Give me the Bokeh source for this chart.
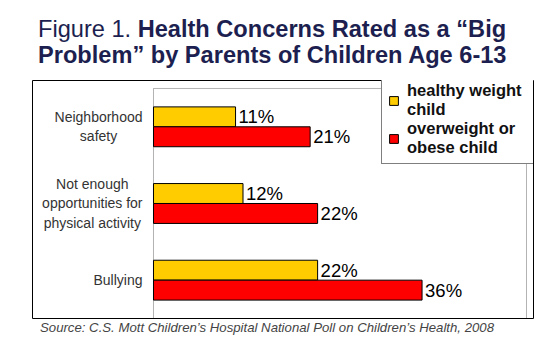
from bokeh.plotting import figure
from bokeh.layouts import column
from bokeh.models import (Range1d, ColumnDataSource, BoxAnnotation, Legend,
                          LegendItem, Div)
from bokeh.core.properties import value
from bokeh.embed import file_html
from bokeh.resources import INLINE

# ---- data ----
categories = ["Neighborhood\nsafety",
              "Not enough\nopportunities for\nphysical activity",
              "Bullying"]
healthy_weight = [11, 12, 22]
overweight_obese = [21, 22, 36]
series_names = ["healthy weight\nchild", "overweight or\nobese child"]
title_prefix = "Figure 1."
title_line1 = "Health Concerns Rated as a \u201cBig"
title_line2 = "Problem\u201d by Parents of Children Age 6-13"
source_text = ("Source: C.S. Mott Children\u2019s Hospital National Poll on "
               "Children\u2019s Health, 2008")

# ---- styles ----
YELLOW = "#FFCC00"
RED = "#FF0000"
NAVY = "#1c1f4f"
FONT = "Liberation Sans"
CAT_FONT_PX = 14
BAR_H = 0.26

# Arial / Liberation Sans advance widths (per 1000 em) for label layout
_W = {'N': 722, 'e': 556, 'i': 222, 'g': 556, 'h': 556, 'b': 556, 'o': 556,
      'r': 333, 'd': 556, 's': 500, 'a': 556, 'f': 278, 't': 278, 'y': 500,
      ' ': 278, 'u': 556, 'p': 556, 'c': 500, 'l': 222, 'v': 500, 'B': 667,
      'n': 556}


def text_px(s, size):
    return max(sum(_W.get(ch, 556) for ch in line) for line in s.split("\n")) * size / 1000.0


n = len(categories)
pos = [n - 1 - i for i in range(n)]          # first category on top

src = ColumnDataSource(dict(
    cat=categories,
    pos=pos,
    pos_h=[y + BAR_H / 2 for y in pos],
    pos_o=[y - BAR_H / 2 for y in pos],
    healthy=healthy_weight,
    over=overweight_obese,
    hl=[f"{v}%" for v in healthy_weight],
    ol=[f"{v}%" for v in overweight_obese],
    zero=[0] * n,
    cat_off=[-(11 + text_px(c, CAT_FONT_PX) / 2) for c in categories],
))

p = figure(width=558, height=240,
           x_range=Range1d(-16.22, 50.94), y_range=Range1d(-0.5, 2.604),
           output_backend="svg", toolbar_location=None,
           min_border_left=32, min_border_right=25,
           min_border_top=1, min_border_bottom=1)
p.title = None
p.xaxis.visible = False
p.yaxis.visible = False
p.xgrid.visible = False
p.ygrid.visible = False
p.outline_line_color = "black"
p.outline_line_width = 1
p.background_fill_color = "white"
p.border_fill_color = "white"

# plot-area frame
p.add_layout(BoxAnnotation(left=0, right=50, bottom=-0.5, top=2.5,
                           fill_alpha=0, line_color="black", line_width=1,
                           level="underlay"))

r1 = p.hbar(y="pos_h", right="healthy", left=0, height=BAR_H,
            fill_color=YELLOW, line_color="black", line_width=1, source=src)
r2 = p.hbar(y="pos_o", right="over", left=0, height=BAR_H,
            fill_color=RED, line_color="black", line_width=1, source=src)

# category labels (centered lines, block right-aligned to the plot area)
p.text(x="zero", y="pos", text="cat", x_offset="cat_off",
       text_align="center", text_baseline="middle", text_line_height=1.2,
       text_font=value(FONT), text_font_size=f"{CAT_FONT_PX}px",
       text_color="#333333", source=src)

# value labels
p.text(x="healthy", y="pos_h", text="hl", x_offset=3,
       text_baseline="middle", text_align="left",
       text_font=value(FONT), text_font_size="18.5px", text_color="black",
       source=src)
p.text(x="over", y="pos_o", text="ol", x_offset=3,
       text_baseline="middle", text_align="left",
       text_font=value(FONT), text_font_size="18.5px", text_color="black",
       source=src)

legend = Legend(items=[LegendItem(label=series_names[0], renderers=[r1]),
                       LegendItem(label=series_names[1], renderers=[r2])],
                location=(349, 154))
legend.border_line_color = "black"
legend.border_line_width = 1.5
legend.background_fill_color = "white"
legend.background_fill_alpha = 1
legend.label_text_font = FONT
legend.label_text_font_style = "bold"
legend.label_text_font_size = "16.5px"
legend.label_text_line_height = 1.12
legend.label_text_color = "#111111"
legend.glyph_width = 11
legend.glyph_height = 11
legend.padding = 6
legend.spacing = 0
legend.margin = 0
legend.label_standoff = 8
legend.label_width = 121
p.add_layout(legend)

title_div = Div(
    text=(f'<div style="font-family:\'{FONT}\';font-size:23.6px;line-height:26px;'
          f'color:{NAVY};padding:16px 0 0 38px;white-space:nowrap;">'
          f'{title_prefix} <b>{title_line1}</b><br><b>{title_line2}</b></div>'),
    width=558, height=79, margin=0)

source_div = Div(
    text=(f'<div style="font-family:\'{FONT}\';font-size:13.2px;line-height:15px;'
          f'color:#444444;font-style:italic;padding:1px 0 0 40px;'
          f'white-space:nowrap;">{source_text}</div>'),
    width=558, height=31, margin=0)

p.margin = 0
layout = column(title_div, p, source_div, spacing=0, margin=0)

open("out.html", "w").write(file_html(layout, INLINE))
